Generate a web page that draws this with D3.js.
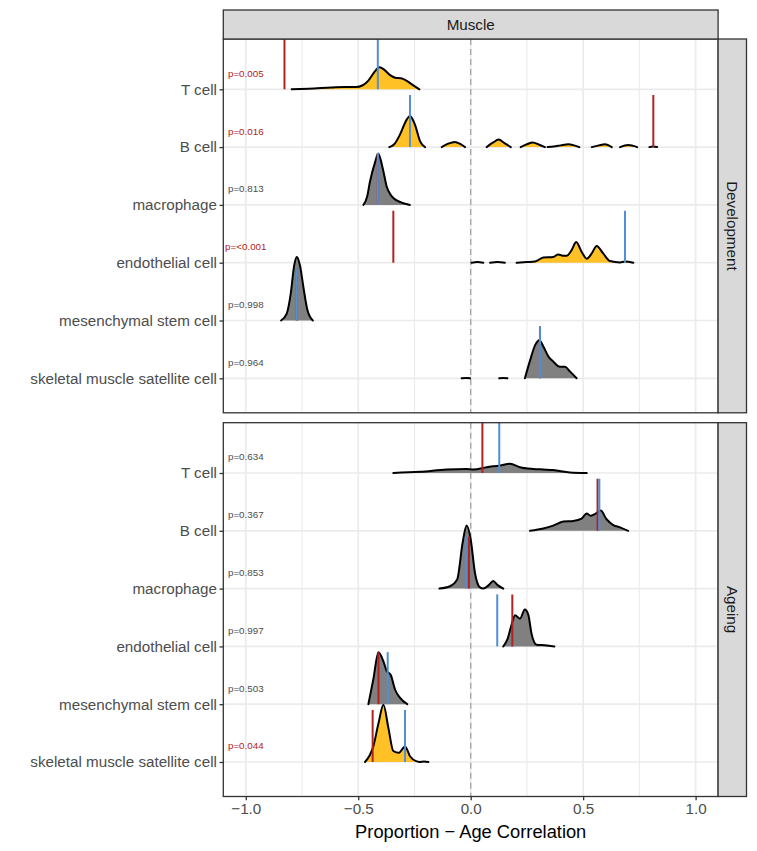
<!DOCTYPE html>
<html><head><meta charset="utf-8">
<script src="https://cdn.jsdelivr.net/npm/d3@7"></script>
<style>
body{margin:0;background:#fff}
svg{display:block}
text{font-family:"Liberation Sans",Arial,Helvetica,sans-serif}
</style>
</head><body>
<svg id="chart" width="757" height="851"></svg>
<script>
// ---------------- DATA ----------------
const cellTypes = ["T cell","B cell","macrophage","endothelial cell","mesenchymal stem cell","skeletal muscle satellite cell"];
const tissue = "Muscle";
const stages = ["Development","Ageing"];
const xTicks = [-1.0,-0.5,0.0,0.5,1.0];
const xMinorTicks = [-0.75,-0.25,0.25,0.75];
const xTickLabels = ["\u22121.0","\u22120.5","0.0","0.5","1.0"];
const xTitle = "Proportion \u2212 Age Correlation";

// p-value labels
const devPLabels = ["p=0.005","p=0.016","p=0.813","p=<0.001","p=0.998","p=0.964"];
const agePLabels = ["p=0.634","p=0.367","p=0.853","p=0.997","p=0.503","p=0.044"];
const devSignificant = [true,true,false,true,false,false];
const ageSignificant = [false,false,false,false,false,true];

// null-distribution median (blue) and observed correlation (red)
const devNullMedian = [-0.413,-0.270,-0.413,0.686,-0.773,0.308];
const devObserved   = [-0.828,0.812,-0.413,-0.344,-0.773,0.308];
const ageNullMedian = [0.127,0.572,-0.022,0.118,-0.369,-0.292];
const ageObserved   = [0.052,0.564,-0.008,0.185,-0.410,-0.436];

// null correlation densities: segments of [correlation, relative density height]
const devDensity = [
  [[[-0.796,0],[-0.72,0.01],[-0.62,0.03],[-0.56,0.04],[-0.51,0.04],[-0.48,0.07],[-0.455,0.15],[-0.43,0.29],[-0.405,0.38],[-0.385,0.34],[-0.36,0.25],[-0.335,0.2],[-0.31,0.19],[-0.29,0.16],[-0.26,0.08],[-0.228,0]]],
  [[[-0.362,0],[-0.34,0.05],[-0.314,0.22],[-0.284,0.48],[-0.27,0.54],[-0.248,0.39],[-0.225,0.1],[-0.203,0]],
   [[-0.129,0],[-0.10,0.06],[-0.07,0.09],[-0.045,0.05],[-0.025,0]],
   [[0.071,0],[0.10,0.08],[0.124,0.13],[0.15,0.07],[0.178,0]],
   [[0.222,0],[0.25,0.05],[0.276,0.08],[0.305,0.04],[0.33,0]],
   [[0.342,0],[0.37,0.01],[0.40,0.03],[0.434,0.05],[0.46,0.03],[0.483,0]],
   [[0.538,0],[0.57,0.03],[0.597,0.05],[0.627,0]],
   [[0.664,0],[0.70,0.035],[0.74,0]],
   [[0.794,0],[0.81,0.01],[0.829,0]]],
  [[[-0.477,0],[-0.46,0.15],[-0.448,0.4],[-0.425,0.74],[-0.411,0.89],[-0.391,0.63],[-0.373,0.31],[-0.355,0.17],[-0.344,0.12],[-0.307,0.04],[-0.27,0]]],
  [[[0.004,0],[0.03,0.01],[0.056,0]],
   [[0.086,0],[0.12,0.01],[0.152,0]],
   [[0.204,0],[0.249,0.01],[0.286,0.02],[0.323,0.09],[0.367,0.1],[0.389,0.14],[0.415,0.12],[0.427,0.12],[0.449,0.22],[0.469,0.36],[0.493,0.19],[0.516,0.07],[0.538,0.16],[0.56,0.29],[0.589,0.16],[0.619,0.03],[0.664,0.005],[0.686,0.02],[0.723,0]]],
  [[[-0.843,0],[-0.818,0.12],[-0.80,0.47],[-0.785,0.95],[-0.773,1.1],[-0.759,0.95],[-0.744,0.58],[-0.726,0.18],[-0.702,0]]],
  [[[-0.04,0],[-0.02,0.006],[-0.003,0]],
   [[0.127,0],[0.145,0.006],[0.163,0]],
   [[0.241,0],[0.264,0.31],[0.286,0.57],[0.305,0.66],[0.323,0.55],[0.345,0.38],[0.367,0.29],[0.397,0.2],[0.419,0.2],[0.441,0.12],[0.471,0]]]
];
const ageDensity = [
  [[[-0.344,0],[-0.225,0.02],[-0.107,0.06],[-0.018,0.07],[0.012,0.06],[0.071,0.1],[0.13,0.13],[0.175,0.16],[0.219,0.1],[0.278,0.07],[0.323,0.06],[0.367,0.05],[0.441,0.01],[0.516,0]]],
  [[[0.264,0],[0.323,0.04],[0.367,0.09],[0.412,0.16],[0.456,0.17],[0.493,0.21],[0.516,0.3],[0.533,0.26],[0.552,0.29],[0.578,0.35],[0.604,0.2],[0.634,0.1],[0.664,0.06],[0.70,0]]],
  [[[-0.139,0],[-0.092,0.04],[-0.06,0.16],[-0.036,0.79],[-0.018,1.09],[0,0.85],[0.019,0.27],[0.041,0.02],[0.056,0],[0.08,0.06],[0.1,0.13],[0.12,0.06],[0.145,0]]],
  [[[0.145,0],[0.163,0.12],[0.182,0.38],[0.197,0.54],[0.219,0.48],[0.241,0.64],[0.256,0.55],[0.271,0.21],[0.293,0.03],[0.33,0.02],[0.372,0]]],
  [[[-0.455,0],[-0.433,0.43],[-0.41,0.9],[-0.388,0.74],[-0.373,0.57],[-0.356,0.51],[-0.336,0.25],[-0.314,0.11],[-0.282,0]]],
  [[[-0.47,0],[-0.433,0.27],[-0.41,0.67],[-0.388,0.99],[-0.366,0.59],[-0.344,0.19],[-0.319,0.16],[-0.292,0.27],[-0.27,0.1],[-0.24,0.01],[-0.228,0]],
   [[-0.226,0],[-0.208,0.01],[-0.188,0]]]
];

// ---------------- LAYOUT ----------------
const C = {
  sigFill:"#FFC125", nsFill:"#808080", red:"#B22222", blue:"#4F8FD4",
  grid:"#EBEBEB", border:"#333333", strip:"#D9D9D9", axisText:"#4D4D4D"
};
const panelLeft = 223.3, panelRight = 718.1;
const panelTops = [39, 422.7], panelH = 373.8;
const rowFirst = 50.3, rowStep = 57.8;
const stripTop = 10, stripRight = 746.5;
const axisFont = 15.2;

const svg = d3.select("#chart");
const x = d3.scaleLinear().domain([-1.1,1.1]).range([panelLeft,panelRight]);
const yRow = d3.scalePoint().domain(cellTypes).range([rowFirst,rowFirst+rowStep*(cellTypes.length-1)]);
const hScale = d3.scaleLinear().domain([0,1]).range([0,rowStep]);
const lineH = 0.9;

const panels = [
  {stage:stages[0], dens:devDensity, p:devPLabels, sig:devSignificant, blue:devNullMedian, red:devObserved},
  {stage:stages[1], dens:ageDensity, p:agePLabels, sig:ageSignificant, blue:ageNullMedian, red:ageObserved}
];

const defs = svg.append("defs");

panels.forEach((P,pi)=>{
  const top = panelTops[pi];
  const g = svg.append("g").attr("transform",`translate(0,${top})`);
  defs.append("clipPath").attr("id","clip"+pi).append("rect")
    .attr("x",panelLeft).attr("y",0).attr("width",panelRight-panelLeft).attr("height",panelH);
  const inner = g.append("g").attr("clip-path",`url(#clip${pi})`);
  // grid
  inner.selectAll(".minor").data(xMinorTicks).join("line")
    .attr("x1",d=>x(d)).attr("x2",d=>x(d)).attr("y1",0).attr("y2",panelH)
    .attr("stroke",C.grid).attr("stroke-width",1.1);
  inner.selectAll(".major").data(xTicks).join("line")
    .attr("x1",d=>x(d)).attr("x2",d=>x(d)).attr("y1",0).attr("y2",panelH)
    .attr("stroke",C.grid).attr("stroke-width",1.7);
  inner.selectAll(".hgrid").data(cellTypes).join("line")
    .attr("x1",panelLeft).attr("x2",panelRight).attr("y1",d=>yRow(d)).attr("y2",d=>yRow(d))
    .attr("stroke",C.grid).attr("stroke-width",1.7);
  // zero reference
  inner.append("line").attr("x1",x(0)).attr("x2",x(0)).attr("y1",0).attr("y2",panelH)
    .attr("stroke","#A9A9A9").attr("stroke-width",1.4).attr("stroke-dasharray","6,4");
  // ridges
  cellTypes.forEach((ct,i)=>{
    const base = yRow(ct);
    const area = d3.area().x(d=>x(d[0])).y0(base).y1(d=>base-hScale(d[1])).curve(d3.curveMonotoneX);
    const line = d3.line().x(d=>x(d[0])).y(d=>base-hScale(d[1])).curve(d3.curveMonotoneX);
    P.dens[i].forEach(seg=>{
      inner.append("path").attr("d",area(seg)).attr("fill",P.sig[i]?C.sigFill:C.nsFill);
      inner.append("path").attr("d",line(seg)).attr("fill","none")
        .attr("stroke","#000").attr("stroke-width",2).attr("stroke-linejoin","round").attr("stroke-linecap","round");
    });
  });
  // observed (red) and null median (blue)
  cellTypes.forEach((ct,i)=>{
    const base = yRow(ct);
    inner.append("line").attr("x1",x(P.red[i])).attr("x2",x(P.red[i]))
      .attr("y1",base).attr("y2",base-hScale(lineH)).attr("stroke",C.red).attr("stroke-width",2);
    inner.append("line").attr("x1",x(P.blue[i])).attr("x2",x(P.blue[i]))
      .attr("y1",base).attr("y2",base-hScale(lineH)).attr("stroke",C.blue).attr("stroke-width",2);
  });
  // p labels
  cellTypes.forEach((ct,i)=>{
    g.append("text").attr("x",x(-1.0)).attr("y",yRow(ct)-16).attr("text-anchor","middle")
      .attr("dominant-baseline","central").attr("font-size",9.8)
      .attr("fill",P.sig[i]?C.red:C.axisText).text(P.p[i]);
  });
  // border
  g.append("rect").attr("x",panelLeft).attr("y",0).attr("width",panelRight-panelLeft).attr("height",panelH)
    .attr("fill","none").attr("stroke",C.border).attr("stroke-width",1.3);
  // y axis
  const ya = g.append("g").attr("transform",`translate(${panelLeft},0)`)
    .call(d3.axisLeft(yRow).tickSize(3.8).tickPadding(2.6));
  ya.select(".domain").remove();
  ya.selectAll(".tick line").attr("stroke",C.border).attr("stroke-width",1.3);
  ya.selectAll(".tick text").attr("font-size",axisFont).attr("fill",C.axisText)
    .attr("font-family","'Liberation Sans',Arial,Helvetica,sans-serif");
  // right strip
  g.append("rect").attr("x",panelRight).attr("y",0).attr("width",stripRight-panelRight).attr("height",panelH)
    .attr("fill",C.strip).attr("stroke",C.border).attr("stroke-width",1.3);
  g.append("text").attr("transform",`translate(${(panelRight+stripRight)/2},${panelH/2}) rotate(90)`)
    .attr("text-anchor","middle").attr("dominant-baseline","central").attr("font-size",axisFont)
    .attr("fill","#1A1A1A").text(P.stage);
});

// top strip
svg.append("rect").attr("x",panelLeft).attr("y",stripTop).attr("width",panelRight-panelLeft).attr("height",panelTops[0]-stripTop)
  .attr("fill",C.strip).attr("stroke",C.border).attr("stroke-width",1.3);
svg.append("text").attr("x",(panelLeft+panelRight)/2).attr("y",(stripTop+panelTops[0])/2)
  .attr("text-anchor","middle").attr("dominant-baseline","central").attr("font-size",axisFont)
  .attr("fill","#1A1A1A").text(tissue);

// x axis
const bottom = panelTops[1]+panelH;
const xa = svg.append("g").attr("transform",`translate(0,${bottom})`)
  .call(d3.axisBottom(x).tickValues(xTicks).tickFormat((d,i)=>xTickLabels[i]).tickSize(3.8).tickPadding(3));
xa.select(".domain").remove();
xa.selectAll(".tick line").attr("stroke",C.border).attr("stroke-width",1.3);
xa.selectAll(".tick text").attr("font-size",axisFont).attr("fill",C.axisText)
  .attr("font-family","'Liberation Sans',Arial,Helvetica,sans-serif");
svg.append("text").attr("x",(panelLeft+panelRight)/2).attr("y",831).attr("text-anchor","middle")
  .attr("dominant-baseline","central").attr("font-size",18.3).attr("fill","#000").text(xTitle);
</script>
</body></html>
